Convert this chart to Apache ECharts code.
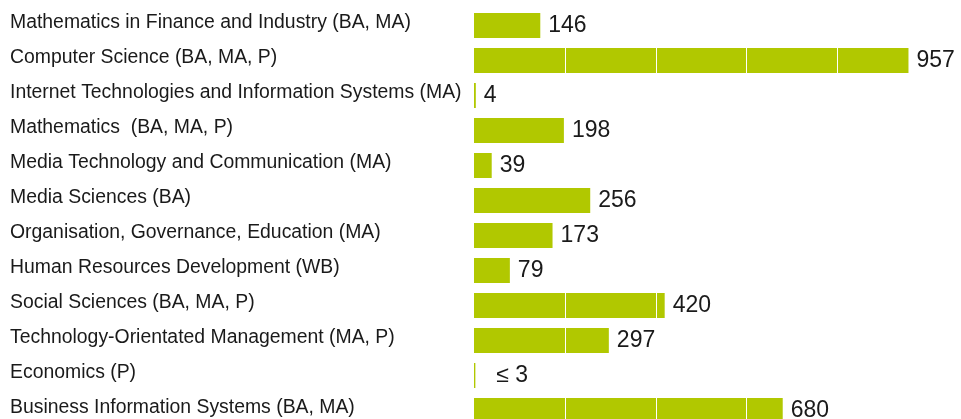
<!DOCTYPE html>
<html>
<head>
<meta charset="utf-8">
<script src="https://cdn.jsdelivr.net/npm/echarts@6/dist/echarts.min.js"></script>
<style>
  html, body { margin: 0; padding: 0; background: #fff; }
  #main { width: 961px; height: 419px; }
</style>
</head>
<body>
<div id="main"></div>
<script>
var categories = [
    'Mathematics in Finance and Industry (BA, MA)',
    'Computer Science (BA, MA, P)',
    'Internet Technologies and Information Systems (MA)',
    'Mathematics  (BA, MA, P)',
    'Media Technology and Communication (MA)',
    'Media Sciences (BA)',
    'Organisation, Governance, Education (MA)',
    'Human Resources Development (WB)',
    'Social Sciences (BA, MA, P)',
    'Technology-Orientated Management (MA, P)',
    'Economics (P)',
    'Business Information Systems (BA, MA)'
];
var values = [146, 957, 4, 198, 39, 256, 173, 79, 420, 297, 3, 680];
var valueLabels = ['146', '957', '4', '198', '39', '256', '173', '79', '420', '297', '  ≤ 3', '680'];
// rows whose bar is split by thin white lines every 200
var dividedRows = [1, 8, 9, 11];
var dividerStep = 200;

var FONT = '"Liberation Sans", Arial, sans-serif';
var BAR_W = 25;

var myChart = echarts.init(document.getElementById('main'));

var dividerData = dividedRows.map(function (i) { return [values[i], i]; });

var option = {
    animation: false,
    grid: { left: 474, right: 33, top: 8, height: 420, outerBoundsMode: 'none' },
    xAxis: {
        type: 'value',
        min: 0,
        max: 1000,
        interval: 200,
        axisLine: { show: false },
        axisTick: { show: false },
        axisLabel: { show: false },
        splitLine: { show: false }
    },
    yAxis: {
        type: 'category',
        inverse: true,
        data: categories,
        axisLine: { show: false },
        axisTick: { show: false },
        axisLabel: {
            align: 'left',
            verticalAlign: 'bottom',
            lineHeight: 6,
            margin: 464,
            fontSize: 19.4,
            fontFamily: FONT,
            color: '#1a1a1a'
        }
    },
    series: [{
        type: 'bar',
        data: values,
        barWidth: BAR_W,
        itemStyle: { color: '#b1c800' },
        label: {
            show: true,
            position: 'right',
            distance: 8,
            fontSize: 23,
            fontFamily: FONT,
            color: '#1a1a1a',
            formatter: function (p) { return valueLabels[p.dataIndex]; }
        }
    }, {
        type: 'custom',
        z: 5,
        silent: true,
        data: dividerData,
        renderItem: function (params, api) {
            var v = api.value(0);
            var row = api.value(1);
            var children = [];
            for (var x = dividerStep; x < v; x += dividerStep) {
                var p = api.coord([x, row]);
                var px = Math.round(p[0]) + 0.5;
                children.push({
                    type: 'line',
                    shape: { x1: px, y1: p[1] - BAR_W / 2, x2: px, y2: p[1] + BAR_W / 2 },
                    style: { stroke: '#ffffff', lineWidth: 1 }
                });
            }
            return { type: 'group', children: children };
        }
    }]
};

myChart.setOption(option);
</script>
</body>
</html>
